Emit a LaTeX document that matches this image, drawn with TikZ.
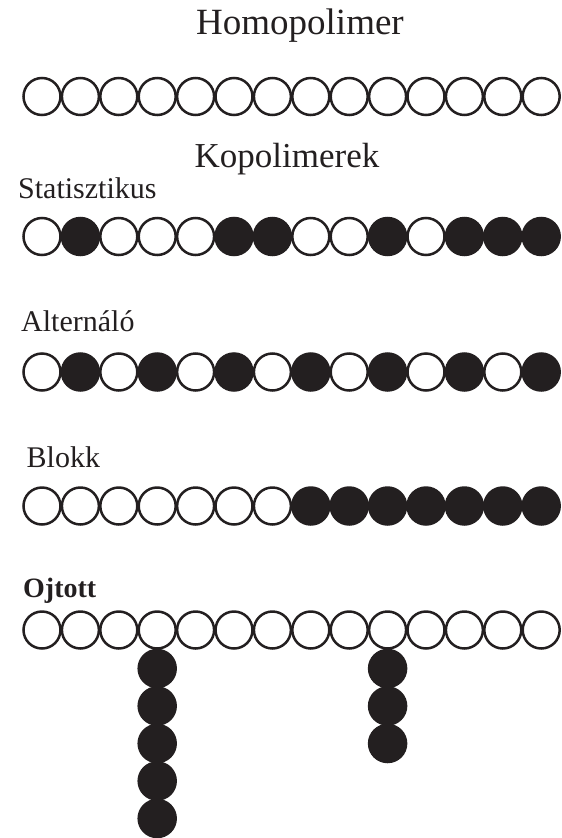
\documentclass[tikz,border=0pt]{standalone}
\usepackage{fontspec}
\setmainfont{Liberation Serif}
\usepackage{xcolor}
\usetikzlibrary{positioning}

\definecolor{ink}{HTML}{231F20}
\tikzset{
  wbead/.style={circle, draw=ink, line width=2.5pt, fill=white, minimum size=37pt, inner sep=0pt},
  bbead/.style={wbead, fill=ink},
  rowlabel/.style={anchor=base west, inner sep=0pt, text=ink, font=\fontsize{30}{32}\selectfont},
  bigtitle/.style={anchor=base, inner sep=0pt, text=ink, font=\fontsize{37}{40}\selectfont},
}

\begin{document}
\begin{tikzpicture}[x=1pt, y=-1pt]
  \useasboundingbox (0,0) rectangle (562,838);
  % Homopolimer
  \node[bigtitle] (homo) at (300,34) {Homopolimer};
  \foreach \i in {1,...,14} {
    \node[wbead] (h\i) at ({42+(\i-1)*38.4},96.5) {};
  }
  \node[bigtitle, font=\fontsize{35}{38}\selectfont] (kopo) at (287,167) {Kopolimerek};
  % Statisztikus
  \node[rowlabel] (stat) at (18,198) {Statisztikus};
  \foreach \c [count=\i] in {w,b,w,w,w,b,b,w,w,b,w,b,b,b} {
    \node[\c bead] (s\i) at ({42+(\i-1)*38.4},236.5) {};
  }
  % Alternalo
  \node[rowlabel] (alt) at (21,331.5) {Alternáló};
  \foreach \c [count=\i] in {w,b,w,b,w,b,w,b,w,b,w,b,w,b} {
    \node[\c bead] (a\i) at ({42+(\i-1)*38.4},372) {};
  }
  % Blokk
  \node[rowlabel] (blokk) at (26.5,467) {Blokk};
  \foreach \c [count=\i] in {w,w,w,w,w,w,w,b,b,b,b,b,b,b} {
    \node[\c bead] (b\i) at ({42+(\i-1)*38.4},506) {};
  }
  % Ojtott
  \node[rowlabel, font=\fontsize{28}{30}\selectfont\bfseries] (ojt) at (23,597) {Ojtott};
  \foreach \i in {1,...,14} {
    \node[wbead] (g\i) at ({42+(\i-1)*38.4},630) {};
  }
  % side chains
  \node[bbead, below=-1pt of g4] (p1) {};
  \foreach \k [remember=\k as \q (initially 1)] in {2,...,5} {
    \node[bbead, below=-2pt of p\q] (p\k) {};
  }
  \node[bbead, below=-1pt of g10] (r1) {};
  \foreach \k [remember=\k as \q (initially 1)] in {2,3} {
    \node[bbead, below=-2pt of r\q] (r\k) {};
  }
\end{tikzpicture}
\end{document}
